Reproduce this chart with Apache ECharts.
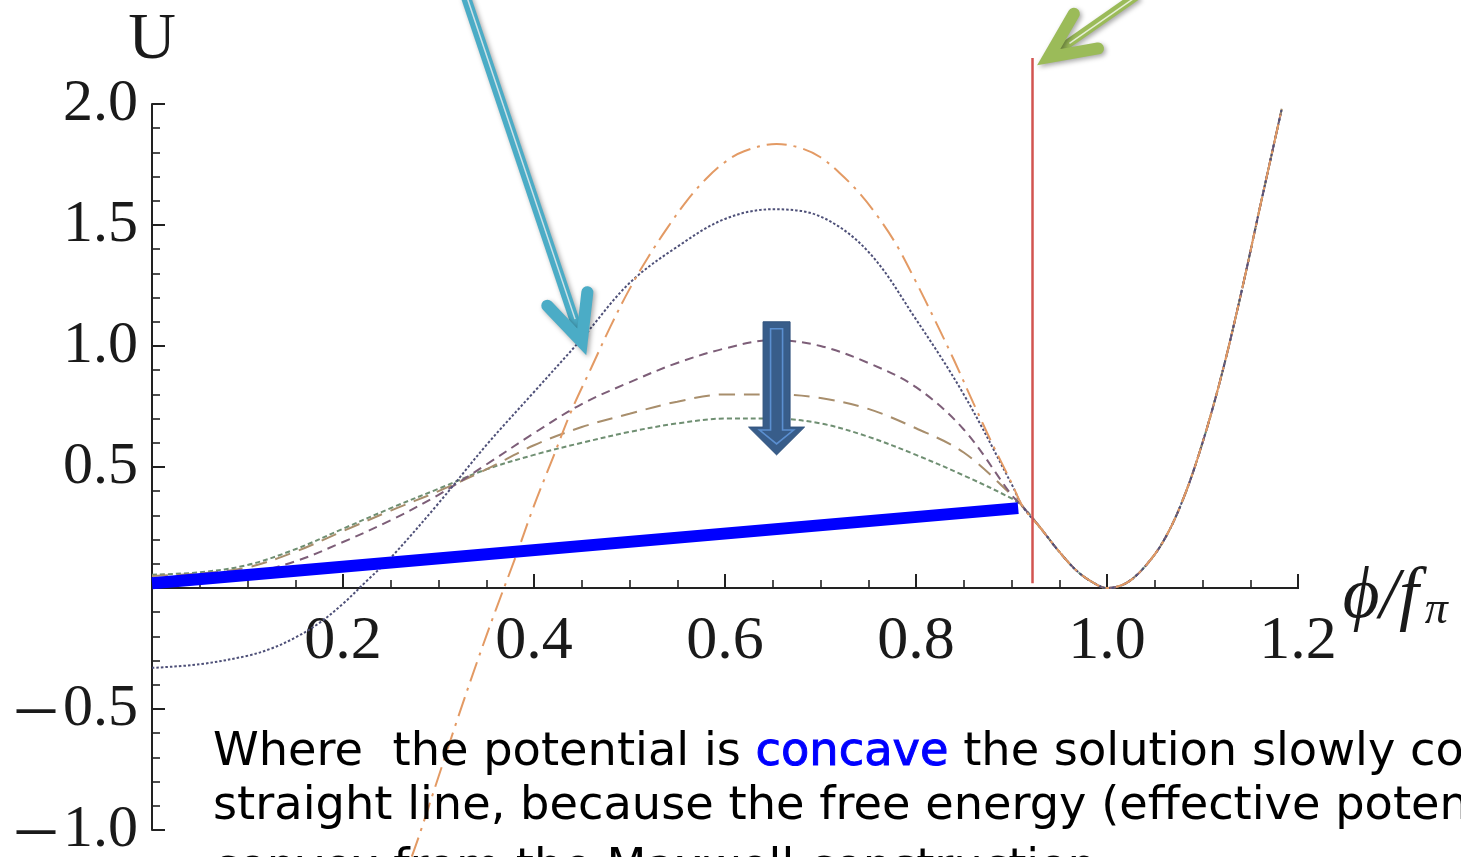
<!DOCTYPE html>
<html><head><meta charset="utf-8">
<script src="https://cdn.jsdelivr.net/npm/echarts@6/dist/echarts.min.js"></script>
<style>html,body{margin:0;padding:0;background:#fff;overflow:hidden}#c{width:1461px;height:857px}</style>
</head><body><div id="c"></div>
<script>
// ---- data ----
const phi      = [0, 0.05, 0.10, 0.15, 0.20, 0.25, 0.30, 0.35, 0.40, 0.45, 0.50, 0.55, 0.60, 0.65, 0.70, 0.75, 0.80, 0.85, 0.90];
const uPurple  = [0.03, 0.035, 0.06, 0.11, 0.19, 0.28, 0.385, 0.51, 0.64, 0.76, 0.85, 0.93, 0.99, 1.025, 1.0, 0.93, 0.83, 0.655, 0.385];
const uTan     = [0.05, 0.06, 0.085, 0.15, 0.235, 0.32, 0.40, 0.49, 0.59, 0.665, 0.72, 0.77, 0.80, 0.80, 0.785, 0.74, 0.66, 0.56, 0.385];
const uGreen   = [0.055, 0.065, 0.095, 0.16, 0.245, 0.33, 0.41, 0.49, 0.55, 0.60, 0.645, 0.68, 0.70, 0.70, 0.68, 0.625, 0.55, 0.465, 0.37];
const phiDotted = [0, 0.05, 0.10, 0.125, 0.15, 0.175, 0.20, 0.225, 0.25, 0.30, 0.35, 0.40, 0.45, 0.50, 0.55, 0.60, 0.65, 0.70, 0.75, 0.80, 0.85, 0.90];
const uDotted   = [-0.33, -0.315, -0.28, -0.25, -0.205, -0.145, -0.065, 0.03, 0.125, 0.35, 0.59, 0.81, 1.03, 1.26, 1.41, 1.525, 1.565, 1.535, 1.39, 1.11, 0.80, 0.43];
const phiOrange = [0.272, 0.28, 0.30, 0.32, 0.34, 0.36, 0.38, 0.40, 0.42, 0.44, 0.46, 0.48, 0.50, 0.52, 0.54, 0.56, 0.58, 0.60, 0.62, 0.654, 0.68, 0.70, 0.72, 0.74, 0.76, 0.78, 0.80, 0.82, 0.84, 0.86, 0.88, 0.90];
const uOrange   = [-1.11, -1.02, -0.78, -0.54, -0.31, -0.09, 0.12, 0.34, 0.54, 0.74, 0.91, 1.08, 1.235, 1.37, 1.49, 1.60, 1.69, 1.76, 1.805, 1.835, 1.817, 1.78, 1.715, 1.635, 1.535, 1.415, 1.265, 1.105, 0.94, 0.765, 0.595, 0.435];
// common right-hand branch shared by every curve
const phiRight = [0.912, 0.93, 0.95, 0.97, 0.99, 1.00, 1.02, 1.04, 1.06, 1.08, 1.10, 1.12, 1.14, 1.16, 1.183];
const uRight   = [0.335, 0.25, 0.15, 0.065, 0.012, 0, 0.02, 0.09, 0.20, 0.37, 0.60, 0.88, 1.21, 1.57, 1.98];
// annotations
const tangentPhi = [0, 0.907];
const tangentU   = [0.02, 0.33];
const redLinePhi = 0.922;
const redLineU   = [0.02, 2.19];
const axisLinePhi = [-0.028, 1.204];
const cyanArrow  = {from: [0.328, 2.45], to: [0.450, 1.017]};
const greenArrow = {from: [1.032, 2.45], to: [0.939, 2.194]};
const downArrow  = {phi: 0.654, top: 1.10, neck: 0.665, tip: 0.55};
const xLabels = [0.2, 0.4, 0.6, 0.8, 1.0, 1.2];
const yLabels = [-1.0, -0.5, 0.5, 1.0, 1.5, 2.0];
const textLine1a = 'Where  the potential is ';
const textLine1b = 'concave';
const textLine1c = ' the solution slowly converges to a';
const textLine2 = 'straight line, because the free energy (effective potential) must be';
const textLine3 = 'convex from the Maxwell construction';

// ---- build ----
function pairs(xs, ys) { return xs.map((x, i) => [x, ys[i]]); }
function withRight(xs, ys) { return pairs(xs, ys).concat(pairs(phiRight, uRight)); }

const serif = 'Liberation Serif, DejaVu Serif, serif';
function curve(name, data, color, dash, width, extra) {
  return Object.assign({
    type: 'line', name, data, showSymbol: false, symbol: 'none', smooth: 0.35,
    lineStyle: {color, width: width || 2, type: dash}, z: 2, animation: false
  }, extra || {});
}

const gridTop = 104, gridBottom = 27, H = 857;
const yMin = -1.0, yMax = 2.0;
const zeroOffset = -(H - gridTop - gridBottom) * (0 - yMin) / (yMax - yMin);

const option = {
  animation: false,
  backgroundColor: '#ffffff',
  grid: {left: 152, right: 163, top: gridTop, bottom: gridBottom, containLabel: false, outerBoundsMode: 'none'},
  xAxis: {
    type: 'value', min: 0, max: 1.2, interval: 0.2, position: 'bottom', offset: zeroOffset,
    name: '{a|\u03D5/f}{b|\u03C0}', nameLocation: 'end', nameGap: 38,
    nameTextStyle: {
      padding: [20, 0, 0, 0],
      rich: {
        a: {fontFamily: serif, fontStyle: 'italic', fontSize: 71, color: '#1a1a1a'},
        b: {fontFamily: serif, fontStyle: 'italic', fontSize: 46, color: '#1a1a1a', padding: [26, 0, 0, 6]}
      }
    },
    axisLine: {onZero: false, lineStyle: {color: '#222', width: 2}},
    axisTick: {show: true, inside: true, length: 14, lineStyle: {color: '#222', width: 2}},
    minorTick: {show: true, splitNumber: 4, length: 8, lineStyle: {color: '#222', width: 1.6}},
    axisLabel: {
      margin: 23, fontFamily: serif, fontSize: 62, color: '#1a1a1a',
      formatter: v => xLabels.some(l => Math.abs(l - v) < 1e-6) ? v.toFixed(1) : ''
    },
    splitLine: {show: false}
  },
  yAxis: {
    type: 'value', min: yMin, max: yMax, interval: 0.5,
    name: 'U', nameLocation: 'end', nameGap: 28,
    nameTextStyle: {fontFamily: serif, fontSize: 66, color: '#1a1a1a', align: 'center'},
    axisLine: {show: true, onZero: false, lineStyle: {color: '#222', width: 2}},
    axisTick: {show: true, inside: true, length: 13, lineStyle: {color: '#222', width: 2}},
    minorTick: {show: true, splitNumber: 5, length: 8, lineStyle: {color: '#222', width: 1.6}},
    axisLabel: {
      margin: 14, fontFamily: serif, fontSize: 60, color: '#1a1a1a',
      rich: {
        m: {fontFamily: serif, fontSize: 76, color: '#1a1a1a', padding: [0, 8, 0, 0]},
        d: {fontFamily: serif, fontSize: 60, color: '#1a1a1a'}
      },
      formatter: v => yLabels.some(l => Math.abs(l - v) < 1e-6)
        ? (v < 0 ? '{m|\u2013}{d|' + Math.abs(v).toFixed(1) + '}' : '{d|' + v.toFixed(1) + '}') : ''
    },
    splitLine: {show: false}
  },
  series: [
    {type: 'line', name: 'axisExt', data: pairs(axisLinePhi, [0, 0]), symbol: 'none', clip: false,
     lineStyle: {color: '#222', width: 2}, z: 1, silent: true},
    curve('green', withRight(phi, uGreen), '#6f8f72', [5, 3], 2),
    curve('tan', withRight(phi, uTan), '#a88e6c', [16, 9], 2),
    curve('purple', withRight(phi, uPurple), '#7d5e78', [9, 6], 2),
    curve('dotted', withRight(phiDotted, uDotted), '#4e5078', [2.5, 2], 2),
    curve('orange', withRight(phiOrange, uOrange), '#e39a64', [20, 7, 3, 7], 2, {clip: false}),
    {type: 'line', name: 'tangent', data: pairs(tangentPhi, tangentU), symbol: 'none',
     lineStyle: {color: '#0000ff', width: 12, cap: 'butt'}, z: 5},
    {type: 'line', name: 'redline', data: [[redLinePhi, redLineU[0]], [redLinePhi, redLineU[1]]], symbol: 'none', clip: false,
     lineStyle: {color: '#d25450', width: 2.5}, z: 6}
  ]
};

const chart = echarts.init(document.getElementById('c'), null, {renderer: 'canvas'});
chart.setOption(option);

const P = (x, y) => chart.convertToPixel({gridIndex: 0}, [x, y]);

function lineArrow(a, color, innerColor, width) {
  const s = P(a.from[0], a.from[1]);
  const t = P(a.to[0], a.to[1]);
  const dx = s[0] - t[0], dy = s[1] - t[1];
  const L = Math.hypot(dx, dy);
  const bx = dx / L, by = dy / L;
  const ang = 25 * Math.PI / 180, len = 50;
  const rot = (x, y, a) => [x * Math.cos(a) - y * Math.sin(a), x * Math.sin(a) + y * Math.cos(a)];
  const r1 = rot(bx, by, ang), r2 = rot(bx, by, -ang);
  const p1 = [t[0] + r1[0] * len, t[1] + r1[1] * len];
  const p2 = [t[0] + r2[0] * len, t[1] + r2[1] * len];
  const shaftEnd = [t[0] + bx * 6, t[1] + by * 6];
  const shadow = {shadowBlur: 5, shadowColor: 'rgba(0,0,0,0.35)', shadowOffsetX: 2, shadowOffsetY: 2};
  return [
    {type: 'line', z: 100, shape: {x1: s[0], y1: s[1], x2: shaftEnd[0], y2: shaftEnd[1]},
     style: Object.assign({stroke: color, lineWidth: width, lineCap: 'butt'}, shadow)},
    {type: 'line', z: 101, shape: {x1: s[0] + 1, y1: s[1], x2: shaftEnd[0] + bx * 18 + 1, y2: shaftEnd[1] + by * 18},
     style: {stroke: innerColor, lineWidth: 1.5}},
    {type: 'polyline', z: 102, shape: {points: [p1, t, p2]},
     style: Object.assign({stroke: color, lineWidth: 12, lineCap: 'round', lineJoin: 'miter', fill: null}, shadow)}
  ];
}

function blockArrow(d) {
  const top = P(d.phi, d.top), neck = P(d.phi, d.neck), tip = P(d.phi, d.tip);
  const cx = top[0];
  const sw = 13.5, hw = 28;
  const outer = [[cx - sw, top[1]], [cx + sw, top[1]], [cx + sw, neck[1]], [cx + hw, neck[1]], [cx, tip[1]], [cx - hw, neck[1]], [cx - sw, neck[1]]];
  const iw = 6, ihw = 17;
  const inner = [[cx - iw, top[1] + 7], [cx + iw, top[1] + 7], [cx + iw, neck[1] + 3], [cx + ihw, neck[1] + 3], [cx, tip[1] - 11], [cx - ihw, neck[1] + 3], [cx - iw, neck[1] + 3]];
  return [
    {type: 'polygon', z: 100, shape: {points: outer}, style: {fill: '#385d8a', stroke: '#30527c', lineWidth: 1}},
    {type: 'polygon', z: 101, shape: {points: inner}, style: {fill: null, stroke: '#5b8fd0', lineWidth: 1.6}}
  ];
}

const textFont = 'DejaVu Sans, Noto Sans, sans-serif';
const fs = 46.3;
const texts = [
  {type: 'text', z: 110, left: 213, top: 729, style: {
    text: '{n|' + textLine1a + '}{c|' + textLine1b + '}{n|' + textLine1c + '}',
    rich: {
      n: {fontFamily: textFont, fontSize: fs, fill: '#000'},
      c: {fontFamily: textFont, fontSize: fs, fill: '#0000ff', stroke: '#0000ff', lineWidth: 1}
    }}},
  {type: 'text', z: 110, left: 213, top: 784, style: {text: textLine2, fontFamily: textFont, fontSize: fs, fill: '#000'}},
  {type: 'text', z: 110, left: 213, top: 846, style: {text: textLine3, fontFamily: textFont, fontSize: fs, fill: '#000'}}
];

chart.setOption({
  graphic: [].concat(
    lineArrow(cyanArrow, '#4bacc6', '#cfe2e8', 10),
    lineArrow(greenArrow, '#9bbb59', '#e6efd6', 9),
    blockArrow(downArrow),
    texts
  )
});
</script>
</body></html>
